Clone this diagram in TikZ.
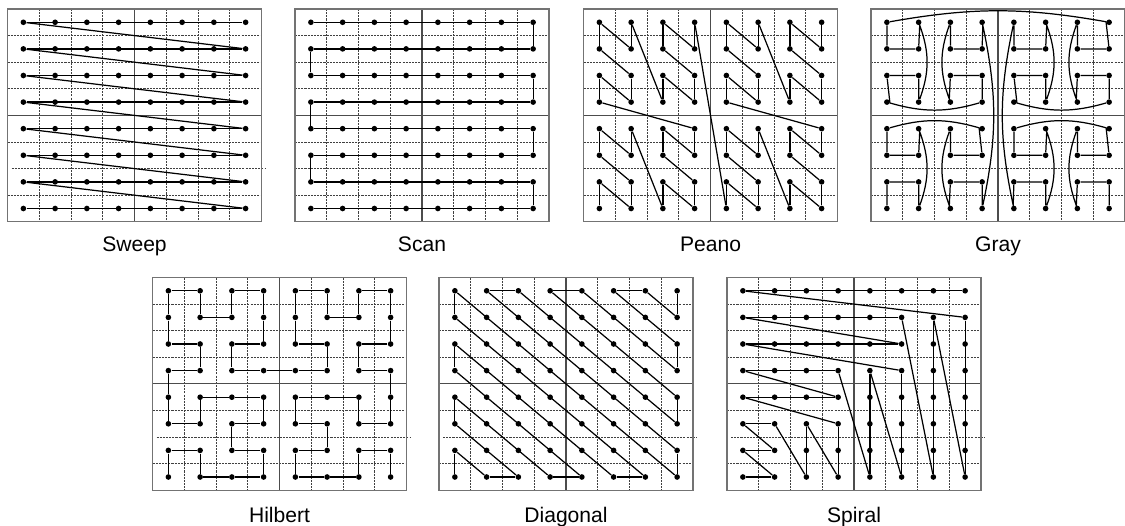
\documentclass[tikz,border=0pt]{standalone}
\usepackage{fontspec}
\setmainfont{Liberation Sans}
\begin{document}
\begin{tikzpicture}[
x=0.02cm, y=-0.02cm,
dot/.style={circle, fill=black, inner sep=0pt, minimum size=3.2pt},
curve/.style={line width=0.7pt, black},
gridline/.style={black!75, line width=0.4pt, dash pattern=on 1.2pt off 0.6pt},
midline/.style={black!70, line width=0.6pt},
frame/.style={black!55, line width=0.8pt},
caption/.style={font=\fontsize{12}{14}\selectfont, anchor=base}
]
\useasboundingbox (0,0) rectangle (1125,526);

% panels: name/left/top/shift of the seventh row line
\foreach \p/\l/\t/\s in {sw/7.5/9/4, sc/295/9/0, pe/583.5/9/0, gr/871/9/0,
                         hi/152.5/277.5/4, di/439/277.5/4, sp/727/277.5/4} {
  \foreach \i in {1,2,3,5,6,7}
    \draw[gridline] (\l+\i*31.75,\t) -- ++(0,212.8);
  \foreach \j in {1,2,3,5,7}
    \draw[gridline] (\l,\t+\j*26.6) -- ++(254,0);
  \draw[gridline] (\l+\s,\t+6*26.6) -- ++(254,0);
  \draw[midline] (\l+127,\t) -- ++(0,212.8);
  \draw[midline] (\l,\t+106.4) -- ++(254,0);
  \draw[frame] (\l,\t) rectangle ++(254,212.8);
  \foreach \i in {0,...,7}
    \foreach \j in {0,...,7}
      \node[dot] (\p-\i-\j) at (\l+\i*31.75+15.875,\t+\j*26.6+13.3) {};
}

% sweep
\foreach \j in {0,...,7}
  \draw[curve] (sw-0-\j) -- (sw-7-\j);
\foreach \j [count=\jj] in {0,...,6}
  \draw[curve] (sw-0-\j) -- (sw-7-\jj);

% scan
\draw[curve] (sc-0-0) -- (sc-7-0) -- (sc-7-1) -- (sc-0-1) -- (sc-0-2) -- (sc-7-2)
  -- (sc-7-3) -- (sc-0-3) -- (sc-0-4) -- (sc-7-4) -- (sc-7-5) -- (sc-0-5)
  -- (sc-0-6) -- (sc-7-6) -- (sc-7-7) -- (sc-0-7);

% peano
\foreach \k in {0,...,62} {
  \pgfmathtruncatemacro\kk{\k+1}
  \pgfmathtruncatemacro\pcol{mod(floor(\k/2),2)+2*mod(floor(\k/8),2)+4*mod(floor(\k/32),2)}
  \pgfmathtruncatemacro\prow{7-mod(\k,2)-2*mod(floor(\k/4),2)-4*mod(floor(\k/16),2)}
  \pgfmathtruncatemacro\qcol{mod(floor(\kk/2),2)+2*mod(floor(\kk/8),2)+4*mod(floor(\kk/32),2)}
  \pgfmathtruncatemacro\qrow{7-mod(\kk,2)-2*mod(floor(\kk/4),2)-4*mod(floor(\kk/16),2)}
  \draw[curve] (pe-\pcol-\prow) -- (pe-\qcol-\qrow);
}

% gray
\draw[curve] (gr-0-7) -- (gr-0-6) -- (gr-1-6) -- (gr-1-7) to[bend right=20] (gr-1-4)
  -- (gr-1-5) -- (gr-0-5) -- (gr-0-4) to[bend left=16] (gr-3-4)
  -- (gr-3-5) -- (gr-2-5) -- (gr-2-4) to[bend right=20] (gr-2-7)
  -- (gr-2-6) -- (gr-3-6) -- (gr-3-7) to[bend right=12] (gr-3-0)
  -- (gr-3-1) -- (gr-2-1) -- (gr-2-0) to[bend right=20] (gr-2-3)
  -- (gr-2-2) -- (gr-3-2) -- (gr-3-3) to[bend left=16] (gr-0-3)
  -- (gr-0-2) -- (gr-1-2) -- (gr-1-3) to[bend right=20] (gr-1-0)
  -- (gr-1-1) -- (gr-0-1) -- (gr-0-0) to[bend left=10] (gr-7-0)
  -- (gr-7-1) -- (gr-6-1) -- (gr-6-0) to[bend right=20] (gr-6-3)
  -- (gr-6-2) -- (gr-7-2) -- (gr-7-3) to[bend left=16] (gr-4-3)
  -- (gr-4-2) -- (gr-5-2) -- (gr-5-3) to[bend right=20] (gr-5-0)
  -- (gr-5-1) -- (gr-4-1) -- (gr-4-0) to[bend right=12] (gr-4-7)
  -- (gr-4-6) -- (gr-5-6) -- (gr-5-7) to[bend right=20] (gr-5-4)
  -- (gr-5-5) -- (gr-4-5) -- (gr-4-4) to[bend left=16] (gr-7-4)
  -- (gr-7-5) -- (gr-6-5) -- (gr-6-4) to[bend right=20] (gr-6-7)
  -- (gr-6-6) -- (gr-7-6) -- (gr-7-7);

% hilbert
\foreach \c/\r [remember=\c as \pc (initially 0), remember=\r as \pr (initially 7)] in
  {0/6,1/6,1/7,2/7,3/7,3/6,2/6,2/5,3/5,3/4,2/4,1/4,1/5,0/5,0/4,
  0/3,1/3,1/2,0/2,0/1,0/0,1/0,1/1,2/1,2/0,3/0,3/1,3/2,2/2,2/3,3/3,
  4/3,5/3,5/2,4/2,4/1,4/0,5/0,5/1,6/1,6/0,7/0,7/1,7/2,6/2,6/3,7/3,
  7/4,7/5,6/5,6/4,5/4,4/4,4/5,5/5,5/6,4/6,4/7,5/7,6/7,6/6,7/6,7/7}
  \draw[curve] (hi-\pc-\pr) -- (hi-\c-\r);

% diagonal
\foreach \c/\r [remember=\c as \pc (initially 7), remember=\r as \pr (initially 0)] in
  {7/1,6/0,5/0,7/2,7/3,4/0,3/0,7/4,7/5,2/0,1/0,7/6,7/7,
  0/0,0/1,6/7,5/7,0/2,0/3,4/7,3/7,0/4,0/5,2/7,1/7,0/6,0/7}
  \draw[curve] (di-\pc-\pr) -- (di-\c-\r);

% spiral
\foreach \c/\r [remember=\c as \pc (initially 7), remember=\r as \pr (initially 0)] in
  {0/0,7/1,7/7,6/1,6/7,5/1,0/1,5/2,0/2,5/3,5/7,4/3,4/7,
  3/3,0/3,3/4,0/4,3/5,3/7,2/5,2/7,1/5,0/5,1/6,0/6,1/7,0/7}
  \draw[curve] (sp-\pc-\pr) -- (sp-\c-\r);

\node[caption] (sweep) at (134.5,252) {Sweep};
\node[caption] (scan) at (422,252) {Scan};
\node[caption] (peano) at (710.5,252) {Peano};
\node[caption] (gray) at (998,252) {Gray};
\node[caption] (hilbert) at (279.5,522) {Hilbert};
\node[caption] (diagonal) at (566,522) {Diagonal};
\node[caption] (spiral) at (854,522) {Spiral};
\end{tikzpicture}
\end{document}
